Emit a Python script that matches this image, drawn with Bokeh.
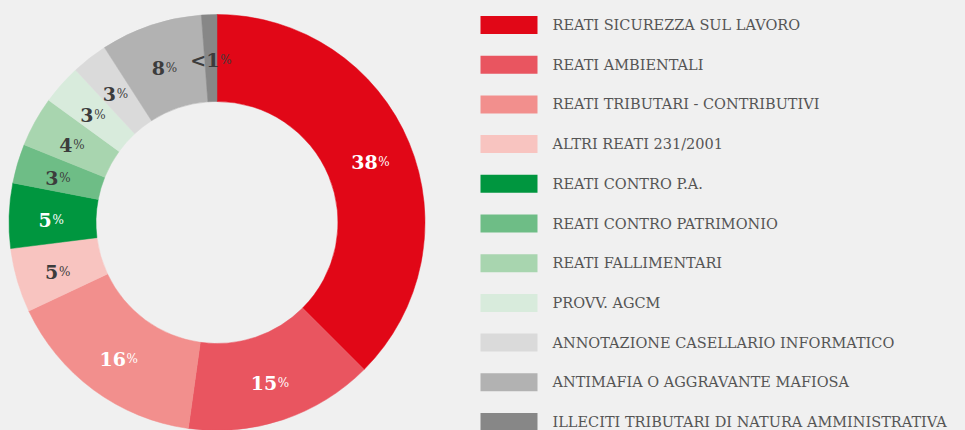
import math
from bokeh.plotting import figure
from bokeh.models import Range1d, ColumnDataSource
from bokeh.core.properties import value
from bokeh.embed import file_html
from bokeh.resources import INLINE

# ---- data ----
categories = [
    "REATI SICUREZZA SUL LAVORO",
    "REATI AMBIENTALI",
    "REATI TRIBUTARI - CONTRIBUTIVI",
    "ALTRI REATI 231/2001",
    "REATI CONTRO P.A.",
    "REATI CONTRO PATRIMONIO",
    "REATI FALLIMENTARI",
    "PROVV. AGCM",
    "ANNOTAZIONE CASELLARIO INFORMATICO",
    "ANTIMAFIA O AGGRAVANTE MAFIOSA",
    "ILLECITI TRIBUTARI DI NATURA AMMINISTRATIVA",
]
shares = [37.5, 14.7, 15.8, 5.0, 5.05, 3.05, 3.9, 3.1, 2.8, 7.9, 1.2]
value_labels = ["38", "15", "16", "5", "5", "3", "4", "3", "3", "8", "<1"]
colors = ["#E10717", "#E95560", "#F28F8D", "#F8C4C0", "#00963F", "#6EBD86",
          "#A8D5AF", "#D8EBDC", "#DADADA", "#B2B2B2", "#878787"]
label_colors = ["#FFFFFF", "#FFFFFF", "#FFFFFF", "#3C3C3C", "#FFFFFF", "#3C3C3C",
                "#3C3C3C", "#3C3C3C", "#3C3C3C", "#3C3C3C", "#3C3C3C"]

BG = "#F0F0F0"
W, H = 965, 430

p = figure(width=W, height=H, x_range=Range1d(0, W), y_range=Range1d(0, H),
           output_backend="svg", toolbar_location=None, min_border=0)
p.axis.visible = False
p.grid.visible = False
p.outline_line_color = None
p.background_fill_color = BG
p.border_fill_color = BG

# donut geometry (pixels, y measured upward)
cx, cy = 216.5, H - 222.0
r_out, r_in, r_lab = 208.0, 121.0, 166.0

total = sum(shares)
starts, ends, lx, ly = [], [], [], []
cum = 0.0
for s in shares:
    a0 = cum / total * 2 * math.pi
    a1 = (cum + s) / total * 2 * math.pi
    starts.append(math.pi / 2 - a0)
    ends.append(math.pi / 2 - a1)
    mid = (a0 + a1) / 2
    lx.append(cx + r_lab * math.sin(mid))
    ly.append(cy + r_lab * math.cos(mid))
    cum += s

src = ColumnDataSource(dict(start=starts, end=ends, color=colors))
p.annular_wedge(x=cx, y=cy, inner_radius=r_in, outer_radius=r_out,
                start_angle="start", end_angle="end", direction="clock",
                fill_color="color", line_color="color", line_width=0.5, source=src)

# value labels: number + small percent sign
def num_width(t):
    w = 0.0
    for ch in t:
        w += 16.0 if ch == "<" else 13.0
    return w

pct_w = 12.0
nx_off, px_off = [], []
for t in value_labels:
    nw = num_width(t)
    tot = nw + pct_w
    nx_off.append(-tot / 2)
    px_off.append(-tot / 2 + nw + 1)

lab_src = ColumnDataSource(dict(x=lx, y=ly, num=value_labels, pct=["%"] * len(value_labels),
                                col=label_colors, nxo=nx_off, pxo=px_off))
p.text(x="x", y="y", text="num", x_offset="nxo", y_offset=3, source=lab_src,
       text_color="col", text_font=value("DejaVu Serif"), text_font_size="19px",
       text_font_style="bold", text_align="left", text_baseline="alphabetic")
p.text(x="x", y="y", text="pct", x_offset="pxo", y_offset=3, source=lab_src,
       text_color="col", text_font=value("DejaVu Serif"), text_font_size="12px",
       text_align="left", text_baseline="alphabetic")

# legend
n = len(categories)
top_y, step = 24.5, 39.7
leg_y = [H - (top_y + i * step) for i in range(n)]
leg_src = ColumnDataSource(dict(y=leg_y, name=categories, color=colors))
p.rect(x=508.5, y="y", width=57, height=18, fill_color="color", line_color=None, source=leg_src)
p.text(x=552, y="y", text="name", source=leg_src, text_color="#555555",
       text_font=value("DejaVu Serif"), text_font_size="14.5px",
       text_align="left", text_baseline="middle")

html = file_html(p, INLINE)
html = html.replace("<head>", "<head><style>html,body{background:#F0F0F0;}</style>", 1)
open("out.html", "w").write(html)
